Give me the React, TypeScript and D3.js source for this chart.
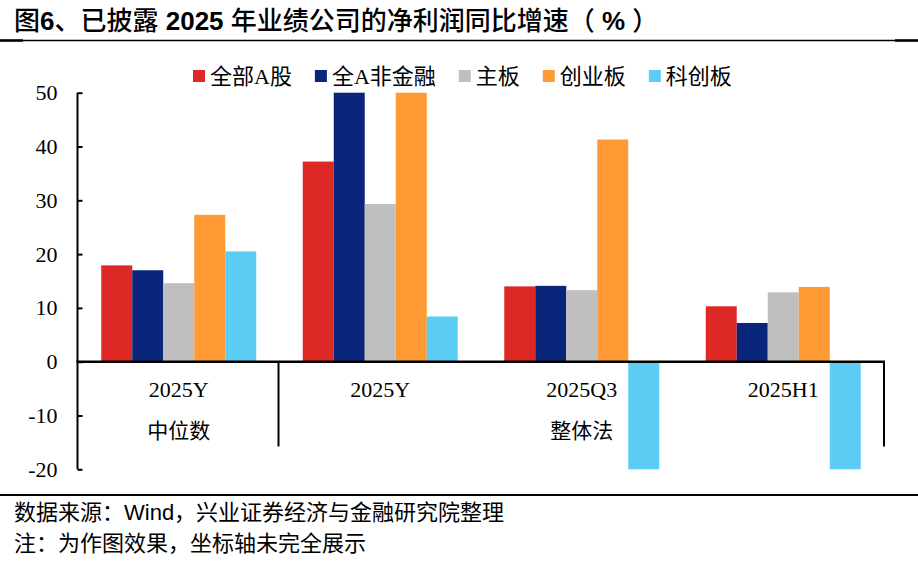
import React, { useEffect, useRef } from 'react';
import * as d3 from 'd3';

const categories = ['2025Y', '2025Y', '2025Q3', '2025H1'];
const seriesNames = ['全部A股', '全A非金融', '主板', '创业板', '科创板'];
const seriesColors = ['#DE2825', '#0A267A', '#BFBFBF', '#FF9A35', '#5BCDF5'];

// values per category, in series order; 50 / -20 are where the axis cuts the bar off
const median2025Y = [17.9, 17.0, 14.6, 27.3, 20.5];
const whole2025Y = [37.2, 50, 29.3, 50, 8.4];
const whole2025Q3 = [14.0, 14.1, 13.3, 41.3, -20];
const whole2025H1 = [10.3, 7.2, 12.9, 13.9, -20];
const values = [median2025Y, whole2025Y, whole2025Q3, whole2025H1];

const yTicks = [50, 40, 30, 20, 10, 0, -10, -20];
const groupLabels = [
  { text: '中位数', from: 0, to: 0 },
  { text: '整体法', from: 1, to: 3 },
];

// title pieces: latin bits are bold, CJK regular
const titleParts = [
  { t: '图', bold: false },
  { t: '6', bold: true },
  { t: '、已披露 ', bold: false },
  { t: '2025', bold: true },
  { t: ' 年业绩公司的净利润同比增速（ ', bold: false },
  { t: '%', bold: true },
  { t: ' ）', bold: false },
];
const source = '数据来源：Wind，兴业证券经济与金融研究院整理';
const note = '注：为作图效果，坐标轴未完全展示';

const width = 918;
const height = 565;
const serif = '"Liberation Serif", "Times New Roman", "Noto Sans CJK SC", serif';
const sans = '"Liberation Sans", Arial, "Noto Sans CJK SC", sans-serif';

export default function App() {
  const svgRef = useRef<SVGSVGElement>(null);

  useEffect(() => {
    if (!svgRef.current) return;
    const svg = d3.select(svgRef.current);
    svg.selectAll('*').remove();

    const plot = { left: 78, right: 884, top: 92.7, bottom: 469.3 };

    const x0 = d3.scaleBand<number>()
      .domain(d3.range(categories.length))
      .range([plot.left, plot.right]);

    const x1 = d3.scaleBand<number>()
      .domain(d3.range(seriesNames.length))
      .range([0, x0.bandwidth()])
      .paddingOuter(0.75);

    const y = d3.scaleLinear()
      .domain([-20, 50])
      .range([plot.bottom, plot.top])
      .clamp(true);

    // title + rules
    const title = svg.append('text')
      .attr('x', 14)
      .attr('y', 30)
      .style('font-family', sans)
      .style('font-size', '26px');
    titleParts.forEach(p => {
      title.append('tspan')
        .style('font-weight', p.bold ? 'bold' : '500')
        .text(p.t);
    });

    svg.append('line')
      .attr('x1', 0).attr('x2', width)
      .attr('y1', 40.5).attr('y2', 40.5)
      .attr('stroke', '#000').attr('stroke-width', 1.5);
    svg.append('line')
      .attr('x1', 0).attr('x2', 23)
      .attr('y1', 40.5).attr('y2', 40.5)
      .attr('stroke', '#000').attr('stroke-width', 2.5);
    svg.append('line')
      .attr('x1', 895).attr('x2', width)
      .attr('y1', 40.5).attr('y2', 40.5)
      .attr('stroke', '#000').attr('stroke-width', 2.5);

    svg.append('line')
      .attr('x1', 0).attr('x2', width)
      .attr('y1', 495).attr('y2', 495)
      .attr('stroke', '#000').attr('stroke-width', 2);

    // bars
    const groups = svg.append('g')
      .selectAll('g')
      .data(values)
      .enter()
      .append('g')
      .attr('transform', (d, i) => `translate(${x0(i)},0)`);

    groups.selectAll('rect')
      .data(d => d)
      .enter()
      .append('rect')
      .attr('x', (d, i) => x1(i)!)
      .attr('y', d => Math.min(y(d), y(0)))
      .attr('width', x1.bandwidth())
      .attr('height', d => Math.abs(y(d) - y(0)))
      .attr('fill', (d, i) => seriesColors[i]);

    // y axis
    const yAxis = d3.axisLeft(y)
      .tickValues(yTicks)
      .tickSize(-5)
      .tickPadding(20)
      .tickFormat(d => `${d}`);

    const yg = svg.append('g')
      .attr('transform', `translate(${plot.left - 0.5},0)`)
      .call(yAxis);

    yg.select('.domain').remove();
    yg.selectAll('.tick line').attr('stroke', '#000').attr('stroke-width', 2);
    yg.selectAll('.tick text')
      .attr('x', -20)
      .style('font-family', serif)
      .style('font-size', '22px')
      .attr('fill', '#000');

    svg.append('line')
      .attr('x1', plot.left - 0.5).attr('x2', plot.left - 0.5)
      .attr('y1', plot.top).attr('y2', plot.bottom)
      .attr('stroke', '#000').attr('stroke-width', 2);

    // x axis at zero
    svg.append('line')
      .attr('x1', plot.left - 1.5).attr('x2', plot.right + 1)
      .attr('y1', y(0)).attr('y2', y(0))
      .attr('stroke', '#000').attr('stroke-width', 2.5);

    // group dividers
    const dividerBottom = 446.5;
    [1, categories.length].forEach(i => {
      const xv = i === categories.length ? plot.right : x0(i)! - 1;
      svg.append('line')
        .attr('x1', xv).attr('x2', xv)
        .attr('y1', y(0)).attr('y2', dividerBottom)
        .attr('stroke', '#000').attr('stroke-width', 2);
    });

    // category labels
    svg.append('g')
      .selectAll('text')
      .data(categories)
      .enter()
      .append('text')
      .attr('x', (d, i) => x0(i)! + x0.bandwidth() / 2)
      .attr('y', 396.5)
      .attr('text-anchor', 'middle')
      .style('font-family', serif)
      .style('font-size', '22px')
      .text(d => d);

    svg.append('g')
      .selectAll('text')
      .data(groupLabels)
      .enter()
      .append('text')
      .attr('x', d => (x0(d.from)! + x0(d.to)! + x0.bandwidth()) / 2)
      .attr('y', 438)
      .attr('text-anchor', 'middle')
      .style('font-family', serif)
      .style('font-size', '21px')
      .text(d => d.text);

    // legend
    const legend = svg.append('g');
    let lx = 193;
    seriesNames.forEach((name, i) => {
      legend.append('rect')
        .attr('x', lx).attr('y', 70)
        .attr('width', 12).attr('height', 12)
        .attr('fill', seriesColors[i]);
      const t = legend.append('text')
        .attr('x', lx + 17)
        .attr('y', 84)
        .style('font-family', serif)
        .style('font-size', '22px')
        .text(name);
      const w = (t.node() as SVGTextElement).getComputedTextLength();
      lx += 17 + w + 23;
    });

    // footer
    svg.append('text')
      .attr('x', 14).attr('y', 520)
      .style('font-family', sans)
      .style('font-size', '22px')
      .text(source);

    svg.append('text')
      .attr('x', 14).attr('y', 551)
      .style('font-family', sans)
      .style('font-size', '22px')
      .text(note);
  }, []);

  return (
    <svg
      ref={svgRef}
      width={width}
      height={height}
      style={{ position: 'absolute', left: 0, top: 0, background: '#fff' }}
    />
  );
}
